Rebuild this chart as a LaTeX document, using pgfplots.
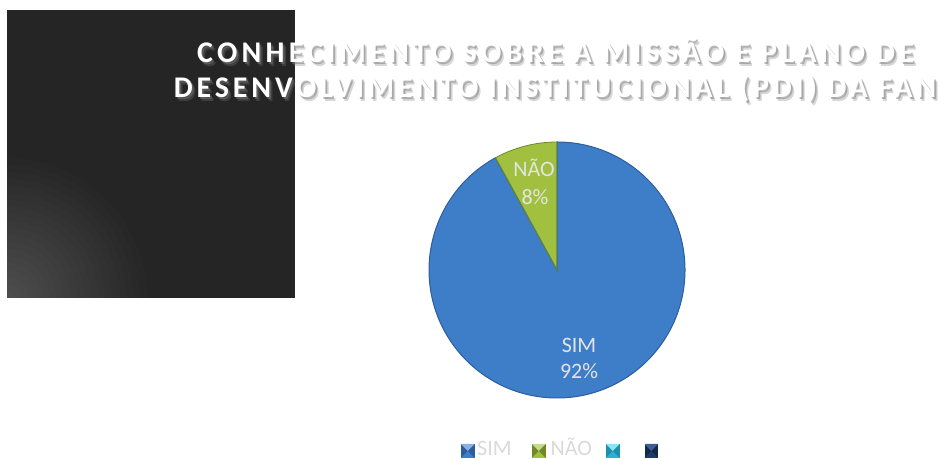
\documentclass[border=0pt]{standalone}
\usepackage{pgfplots}
\pgfplotsset{compat=1.18}
\usepackage{pgfplotstable}
\usepackage{fontspec}
\setmainfont{Carlito}
\newfontfamily\titlefontA{Carlito}[LetterSpace=14.2]
\newfontfamily\titlefontB{Carlito}[LetterSpace=12.9]

\definecolor{bgdark}{HTML}{252525}
\definecolor{simc}{HTML}{3E7DC8}
\definecolor{simedge}{HTML}{2C5E9E}
\definecolor{naoc}{HTML}{A1C040}
\definecolor{naoedge}{HTML}{6F8A25}
\definecolor{lbl}{HTML}{E4E4E4}
\definecolor{legtxt}{HTML}{D9D9D9}
\definecolor{shadowc}{HTML}{7A7A7A}
\definecolor{cyside}{HTML}{1F8FAE}
\definecolor{cytop}{HTML}{8FE3F5}
\definecolor{cybot}{HTML}{2FB0D2}
\definecolor{dkside}{HTML}{14294A}
\definecolor{dktop}{HTML}{3D5F93}
\definecolor{dkbot}{HTML}{1F3A66}

\pgfplotstableread{
label value
SIM 92
NAO 8
}\piedata
\pgfplotstablegetelem{0}{value}\of\piedata
\pgfmathsetmacro{\vA}{\pgfplotsretval}
\pgfplotstablegetelem{1}{value}\of\piedata
\pgfmathsetmacro{\vB}{\pgfplotsretval}
\pgfmathsetmacro{\angA}{\vA/(\vA+\vB)*360}
\pgfmathsetmacro{\angB}{\vB/(\vA+\vB)*360}

\newcommand{\legsq}[4]{%
  \fill[#2] (#1,1) rectangle (#1+13.5,15);
  \fill[#3] (#1,15) -- (#1+13.5,15) -- (#1+6.75,8) -- cycle;
  \fill[#4] (#1,1) -- (#1+13.5,1) -- (#1+6.75,8) -- cycle;
}

\newcommand{\titleline}[4]{%
  \node[anchor=base, inner sep=0pt, text=shadowc, opacity=0.3, font=#4\bfseries\fontsize{30bp}{36bp}\selectfont] at (#1+3.2,#2-3.2) {#3};
  \node[anchor=base, inner sep=0pt, text=shadowc, opacity=0.5, font=#4\bfseries\fontsize{30bp}{36bp}\selectfont] at (#1+1.8,#2-1.8) {#3};
  \node[anchor=base, inner sep=0pt, text=white, font=#4\bfseries\fontsize{30bp}{36bp}\selectfont] at (#1,#2) {#3};
}

\begin{document}%
\begin{tikzpicture}[x=1bp,y=1bp]
% dark panel with glow (decoration)
\fill[bgdark] (7,161) rectangle (295,449);
\begin{scope}
  \clip (7,161) rectangle (295,449);
  \foreach \k in {1,...,20} {
    \fill[white, opacity=0.013] (7,161) circle[radius=\k*7bp];
  }
\end{scope}
\begin{axis}[at={(0,0)}, anchor=south west,
  width=944bp, height=459bp, scale only axis,
  xmin=0, xmax=944, ymin=0, ymax=459,
  hide axis, clip=false]
  % pie
  \fill[simc] (557,189) -- (557,317) arc[start angle=90, delta angle=-\angA, radius=128bp] -- cycle;
  \fill[naoc] (557,189) -- (557,317) arc[start angle=90, delta angle=\angB, radius=128bp] -- cycle;
  \draw[simedge, line width=1bp] (557,189) -- (557,317) arc[start angle=90, delta angle=-\angA, radius=128bp] -- cycle;
  \draw[naoedge, line width=0.8bp] (557,189) -- (557,317) arc[start angle=90, delta angle=\angB, radius=128bp] -- cycle;
  % labels
  \node[anchor=base, text=lbl, font=\fontsize{22bp}{26bp}\selectfont] at (534,282) {NÃO};
  \node[anchor=base, text=lbl, font=\fontsize{22bp}{26bp}\selectfont] at (535,254) {8\%};
  \node[anchor=base, text=lbl, font=\fontsize{22bp}{26bp}\selectfont] at (579,106) {SIM};
  \node[anchor=base, text=lbl, font=\fontsize{22bp}{26bp}\selectfont] at (579,80) {92\%};
  % title
  \titleline{555.5}{396}{CONHECIMENTO SOBRE A MISSÃO E PLANO DE}{\titlefontA}
  \titleline{555}{361}{DESENVOLVIMENTO INSTITUCIONAL (PDI) DA FAN}{\titlefontB}
  % legend
  \legsq{461}{simedge}{simc!60!white}{simc}
  \node[anchor=base west, inner sep=0pt, text=legtxt, font=\fontsize{22bp}{26bp}\selectfont] at (477,3.5) {SIM};
  \legsq{532}{naoedge}{naoc!60!white}{naoc}
  \node[anchor=base west, inner sep=0pt, text=legtxt, font=\fontsize{22bp}{26bp}\selectfont] at (550.5,3.5) {NÃO};
  \legsq{606}{cyside}{cytop}{cybot}
  \legsq{644.5}{dkside}{dktop}{dkbot}
\end{axis}
\pgfresetboundingbox
\path[use as bounding box] (0,0) rectangle (944,459);
\end{tikzpicture}%
\end{document}
